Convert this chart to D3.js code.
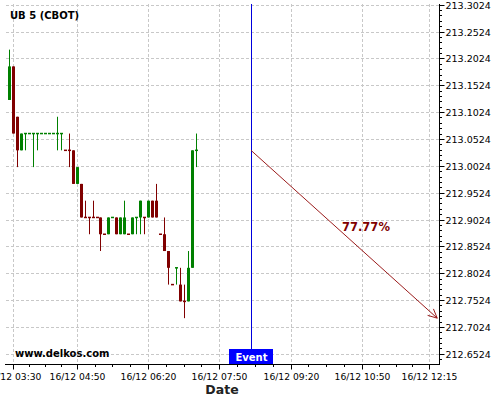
<!DOCTYPE html>
<html>
<head>
<meta charset="utf-8">
<script src="https://cdn.jsdelivr.net/npm/d3@7"></script>
<style>
  body { margin: 0; background: #fff; }
  svg { display: block; font-family: "DejaVu Sans", sans-serif; }
</style>
</head>
<body>
<script>
var width = 500;
var height = 400;

// 5 minute bars, 16/12
var times = ['03:25','03:30','03:35','03:40','03:45','03:50','03:55','04:00','04:05','04:10',
  '04:15','04:20','04:25','04:30','04:35','04:40','04:45','04:50','04:55','05:00',
  '05:05','05:10','05:15','05:20','05:25','05:30','05:35','05:40','05:45','05:50',
  '05:55','06:00','06:05','06:10','06:15','06:20','06:25','06:30','06:35','06:40',
  '06:45','06:50','06:55','07:00','07:05','07:10','07:15','07:20'];
var opens = [213.125,213.1875,213.09375,213.03125,213.0625,213.0625,213.0625,213.0625,213.0625,213.0625,
  213.0625,213.0625,213.0625,213.0625,213.03125,213.03125,213.03125,212.96875,212.96875,212.90625,
  212.90625,212.90625,212.90625,212.90625,212.875,212.875,212.90625,212.90625,212.875,212.875,
  212.875,212.875,212.90625,212.90625,212.90625,212.90625,212.9375,212.9375,212.875,212.875,
  212.84375,212.78125,212.8125,212.78125,212.75,212.75,212.8125,213.03125];
var highs = [213.21875,213.1875,213.09375,213.0625,213.0625,213.0625,213.0625,213.0625,213.0625,213.0625,
  213.0625,213.0625,213.09375,213.0625,213.03125,213.0625,213.03125,213.0,212.96875,212.9375,
  212.90625,212.9375,212.90625,212.90625,212.875,212.90625,212.90625,212.90625,212.90625,212.9375,
  212.875,212.90625,212.90625,212.9375,212.90625,212.9375,212.9375,212.96875,212.875,212.90625,
  212.84375,212.78125,212.8125,212.8125,212.78125,212.84375,213.03125,213.0625];
var lows = [213.125,213.0625,213.0,213.03125,213.03125,213.0625,213.0,213.03125,213.0625,213.0625,
  213.0625,213.0625,213.03125,213.03125,213.03125,213.0,212.96875,212.96875,212.90625,212.90625,
  212.875,212.90625,212.90625,212.84375,212.875,212.875,212.90625,212.875,212.875,212.875,
  212.875,212.875,212.875,212.875,212.875,212.90625,212.90625,212.90625,212.875,212.84375,
  212.78125,212.78125,212.78125,212.75,212.71875,212.75,212.8125,213.0];
var closes = [213.1875,213.0625,213.03125,213.0625,213.0625,213.0625,213.0625,213.0625,213.0625,213.0625,
  213.0625,213.0625,213.0625,213.0625,213.03125,213.03125,212.96875,213.0,212.90625,212.90625,
  212.90625,212.90625,212.90625,212.875,212.875,212.90625,212.90625,212.875,212.90625,212.90625,
  212.875,212.90625,212.90625,212.9375,212.90625,212.9375,212.90625,212.90625,212.875,212.84375,
  212.8125,212.78125,212.8125,212.75,212.75,212.8125,213.03125,213.03125];

var xTickLabels = ['16/12 03:30','16/12 04:50','16/12 06:20','16/12 07:50','16/12 09:20','16/12 10:50','16/12 12:15'];
var yTickLabels = ['213.3024','213.2524','213.2024','213.1524','213.1024','213.0524',
  '213.0024','212.9524','212.9024','212.8524','212.8024','212.7524','212.7024','212.6524'];

var eventTime = '08:30';
var forecastEndTime = '12:25';
var forecastStart = 213.03125;
var forecastEnd = 212.71875;
var forecastLabel = '77.77%';

var parse = d3.timeParse('%d/%m %H:%M');
var fmt = d3.timeFormat('%d/%m %H:%M');
var day = function(t) { return parse('16/12 ' + t); };

var plotTop = 4, plotBottom = 364, plotLeft = 5, plotRight = 439;

var x = d3.scaleTime()
  .domain([parse(xTickLabels[0]), parse(xTickLabels[xTickLabels.length - 1])])
  .range([13.3, 429.3]);
var y = d3.scaleLinear()
  .domain([+yTickLabels[yTickLabels.length - 1], +yTickLabels[0]])
  .range([353.8, 4.7]);

var svg = d3.select('body').append('svg')
  .attr('width', width)
  .attr('height', height);

var xTicks = xTickLabels.map(parse);
var yTicks = yTickLabels.map(Number);

// grid
svg.append('g').selectAll('line')
  .data(yTicks)
  .enter().append('line')
  .attr('x1', plotLeft + 1).attr('x2', plotRight)
  .attr('y1', function(d) { return Math.round(y(d)) + 0.5; })
  .attr('y2', function(d) { return Math.round(y(d)) + 0.5; })
  .attr('stroke', '#c8c8c8').attr('stroke-dasharray', '3,2');
svg.append('g').selectAll('line')
  .data(xTicks)
  .enter().append('line')
  .attr('x1', function(d) { return Math.round(x(d)) + 0.5; })
  .attr('x2', function(d) { return Math.round(x(d)) + 0.5; })
  .attr('y1', plotTop).attr('y2', plotBottom)
  .attr('stroke', '#c8c8c8').attr('stroke-dasharray', '3,2');

// candles
var bars = times.map(function(t, i) {
  var up;
  if (closes[i] > opens[i]) up = true;
  else if (closes[i] < opens[i]) up = false;
  else if (i == 0) up = true;
  else up = closes[i] > closes[i - 1] ? true : (closes[i] < closes[i - 1] ? false : null);
  return { t: day(t), o: opens[i], h: highs[i], l: lows[i], c: closes[i], up: up };
});
for (var i = 0; i < bars.length; i++) {
  if (bars[i].up === null) bars[i].up = bars[i - 1].up;
}
var green = '#008000', red = '#800000';

var candle = svg.append('g').selectAll('g')
  .data(bars)
  .enter().append('g');
candle.append('line')
  .attr('x1', function(d) { return Math.round(x(d.t)) + 0.5; })
  .attr('x2', function(d) { return Math.round(x(d.t)) + 0.5; })
  .attr('y1', function(d) { return y(d.h); })
  .attr('y2', function(d) { return y(d.l); })
  .attr('stroke', function(d) { return d.up ? green : red; });
candle.append('rect')
  .attr('x', function(d) { return Math.round(x(d.t)) - 1; })
  .attr('width', 3)
  .attr('y', function(d) { return y(Math.max(d.o, d.c)) - (d.o == d.c ? 0.75 : 0); })
  .attr('height', function(d) { return Math.max(1.5, Math.abs(y(d.o) - y(d.c))); })
  .attr('fill', function(d) { return d.up ? green : red; });

// event line
var ex = Math.round(x(day(eventTime))) + 0.5;
svg.append('line')
  .attr('x1', ex).attr('x2', ex)
  .attr('y1', plotTop).attr('y2', plotBottom)
  .attr('stroke', '#0000dd');

// forecast arrow
var ax1 = x(day(eventTime)), ay1 = y(forecastStart);
var ax2 = x(day(forecastEndTime)), ay2 = y(forecastEnd);
var arrowColor = '#9b1c1c';
svg.append('line')
  .attr('x1', ax1).attr('y1', ay1).attr('x2', ax2).attr('y2', ay2)
  .attr('stroke', arrowColor);
var ang = Math.atan2(ay2 - ay1, ax2 - ax1);
[-0.45, 0.45].forEach(function(a) {
  svg.append('line')
    .attr('x1', ax2).attr('y1', ay2)
    .attr('x2', ax2 - 10 * Math.cos(ang + a))
    .attr('y2', ay2 - 10 * Math.sin(ang + a))
    .attr('stroke', arrowColor);
});
svg.append('text')
  .attr('x', 342).attr('y', 231)
  .attr('font-size', '11.5px').attr('font-weight', 'bold')
  .attr('fill', '#800000')
  .text(forecastLabel);

// axes
var yMinor = d3.range(0, 70).map(function(k) { return +yTickLabels[yTickLabels.length - 1] - 0.01 + k * 0.01; })
  .filter(function(v) { return y(v) >= plotTop && y(v) <= plotBottom; });
svg.append('g').selectAll('line')
  .data(yMinor)
  .enter().append('line')
  .attr('x1', plotRight).attr('x2', plotRight + 3)
  .attr('y1', function(d) { return Math.round(y(d)) + 0.5; })
  .attr('y2', function(d) { return Math.round(y(d)) + 0.5; })
  .attr('stroke', '#000');

var yAxis = svg.append('g')
  .attr('transform', 'translate(' + (plotRight + 0.5) + ',0)')
  .call(d3.axisRight(y).tickValues(yTicks).tickSize(5).tickPadding(1)
    .tickFormat(function(d, i) { return yTickLabels[i]; }));
yAxis.select('.domain').remove();
yAxis.attr('font-family', '"DejaVu Sans", sans-serif').attr('font-size', '9.5px');
yAxis.selectAll('.tick').attr('transform', function(d) { return 'translate(0,' + (Math.round(y(d)) + 0.5) + ')'; });

var xMinor = [];
for (var j = 0; j < xTicks.length - 1; j++) {
  var a0 = x(xTicks[j]), a1 = x(xTicks[j + 1]);
  for (var m = 1; m < 4; m++) xMinor.push(a0 + (a1 - a0) * m / 4);
}
svg.append('g').selectAll('line')
  .data(xMinor)
  .enter().append('line')
  .attr('x1', function(d) { return Math.round(d) + 0.5; })
  .attr('x2', function(d) { return Math.round(d) + 0.5; })
  .attr('y1', plotBottom).attr('y2', plotBottom + 3)
  .attr('stroke', '#000');

var xAxis = svg.append('g')
  .attr('transform', 'translate(0,' + (plotBottom + 0.5) + ')')
  .call(d3.axisBottom(x).tickValues(xTicks).tickSize(5).tickPadding(3.5).tickFormat(fmt));
xAxis.select('.domain').remove();
xAxis.attr('font-family', '"DejaVu Sans", sans-serif').attr('font-size', '9.2px');
xAxis.selectAll('.tick').attr('transform', function(d) { return 'translate(' + (Math.round(x(d)) + 0.5) + ',0)'; });

svg.append('line')
  .attr('x1', plotLeft).attr('x2', plotRight + 1)
  .attr('y1', plotBottom + 0.5).attr('y2', plotBottom + 0.5)
  .attr('stroke', '#000');
svg.append('line')
  .attr('x1', plotRight + 0.5).attr('x2', plotRight + 0.5)
  .attr('y1', plotTop).attr('y2', plotBottom + 1)
  .attr('stroke', '#000');

// event badge
svg.append('rect')
  .attr('x', ex - 22.5).attr('y', 349)
  .attr('width', 44).attr('height', 15)
  .attr('fill', '#0000ff');
svg.append('text')
  .attr('x', ex).attr('y', 360.5)
  .attr('text-anchor', 'middle')
  .attr('font-size', '10px').attr('font-weight', 'bold')
  .attr('fill', '#fff')
  .text('Event');

// texts
svg.append('text')
  .attr('x', 10).attr('y', 19)
  .attr('font-size', '10px').attr('font-weight', 'bold')
  .text('UB 5 (CBOT)');
svg.append('text')
  .attr('x', 15).attr('y', 357)
  .attr('font-size', '10px').attr('font-weight', 'bold')
  .text('www.delkos.com');
svg.append('text')
  .attr('x', 222).attr('y', 393.5)
  .attr('text-anchor', 'middle')
  .attr('font-size', '12.5px').attr('font-weight', 'bold')
  .attr('fill', '#222')
  .text('Date');
</script>
</body>
</html>
